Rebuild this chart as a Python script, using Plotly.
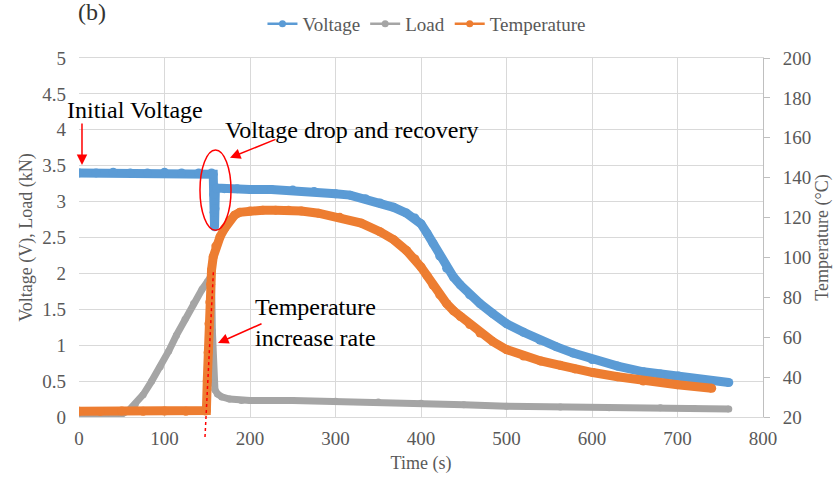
import plotly.graph_objects as go

# ---- data -------------------------------------------------------------
# Voltage (V), left axis
volt_t = [0, 20, 40, 60, 80, 100, 120, 140, 155, 157, 157.5, 158, 158.5, 159, 159.5,
          161, 170, 185, 200, 225, 250, 275, 300, 317, 335, 352, 368, 383, 393, 400,
          407, 414, 422, 430, 438, 446, 457, 469, 484, 500, 520, 539, 558, 578, 600,
          630, 660, 680, 701, 730, 760]
volt_v = [3.40, 3.40, 3.41, 3.40, 3.40, 3.41, 3.40, 3.40, 3.40, 3.38, 3.10, 2.85, 2.65,
          2.90, 3.18, 3.19, 3.18, 3.18, 3.17, 3.17, 3.16, 3.14, 3.11, 3.09, 3.04, 2.98,
          2.92, 2.84, 2.77, 2.69, 2.56, 2.42, 2.24, 2.07, 1.95, 1.84, 1.70, 1.58, 1.44,
          1.30, 1.18, 1.07, 0.98, 0.89, 0.80, 0.71, 0.63, 0.60, 0.57, 0.52, 0.48]

# Load (kN), left axis
load_t = [0, 10, 20, 30, 40, 50, 58, 66, 75, 85, 95, 105, 114, 124, 134, 144, 150, 155,
          156, 157, 159, 162, 167, 176, 190, 200, 250, 300, 350, 400, 450, 500, 563,
          620, 680, 720, 760]
load_v = [0.02, 0.01, 0.00, 0.00, 0.01, 0.04, 0.09, 0.18, 0.31, 0.50, 0.70, 0.92, 1.14,
          1.36, 1.58, 1.78, 1.88, 1.97, 1.20, 0.47, 0.38, 0.32, 0.28, 0.25, 0.23, 0.23,
          0.23, 0.22, 0.21, 0.19, 0.17, 0.15, 0.14, 0.13, 0.13, 0.12, 0.11]

# Temperature (°C), right axis
temp_t = [0, 25, 50, 75, 100, 125, 148, 149, 150, 151, 152, 153, 154, 155, 157, 160, 165,
          170, 176, 182, 188, 200, 215, 230, 245, 260, 280, 305, 330, 352, 368, 383, 393,
          400, 407, 414, 422, 430, 438, 446, 457, 469, 484, 500, 520, 540, 563, 580, 601,
          630, 660, 700, 740]
temp_v = [22.9, 22.8, 23.0, 22.9, 23.0, 22.9, 23.0, 23.2, 38.0, 52.4, 66.8, 77.6, 86.6,
          93.8, 100.3, 105.7, 110.4, 114.3, 118.6, 121.2, 122.6, 123.3, 123.7, 123.7,
          123.7, 123.3, 122.2, 120.1, 117.2, 112.9, 108.9, 103.5, 99.2, 95.2, 90.9, 86.2,
          81.2, 76.9, 73.3, 70.4, 66.4, 62.1, 57.8, 53.8, 50.6, 48.1, 45.9, 44.1, 42.3,
          40.2, 38.0, 36.2, 34.4]

x_ticks = [0, 100, 200, 300, 400, 500, 600, 700, 800]
left_ticks = [0, 0.5, 1, 1.5, 2, 2.5, 3, 3.5, 4, 4.5, 5]
right_ticks = [20, 40, 60, 80, 100, 120, 140, 160, 180, 200]

BLUE = "#5B9BD5"
GRAY = "#A5A5A5"
ORANGE = "#ED7D31"
RED = "#FF0000"
TXT = "#595959"
GRID = "#D9D9D9"
FONT = "Liberation Serif, Times New Roman, serif"

fig = go.Figure()

# thick data bands (dense markers drawn as a wide line with round joints)
fig.add_trace(go.Scatter(x=volt_t, y=volt_v, mode="lines+markers", name="Voltage",
                         line=dict(color=BLUE, width=9), marker=dict(color=BLUE, size=9),
                         showlegend=False))
fig.add_trace(go.Scatter(x=load_t, y=load_v, mode="lines+markers", name="Load",
                         line=dict(color=GRAY, width=7), marker=dict(color=GRAY, size=7),
                         showlegend=False))
fig.add_trace(go.Scatter(x=temp_t, y=temp_v, mode="lines+markers", name="Temperature",
                         line=dict(color=ORANGE, width=9), marker=dict(color=ORANGE, size=9),
                         showlegend=False, yaxis="y2"))

# legend entries: thin line with a dot
for name, color, ax in [("Voltage", BLUE, "y"), ("Load", GRAY, "y"), ("Temperature", ORANGE, "y2")]:
    fig.add_trace(go.Scatter(x=[None], y=[None], mode="lines+markers", name=name,
                             line=dict(color=color, width=2.5),
                             marker=dict(color=color, size=7), yaxis=ax))

tick_font = dict(family=FONT, size=19, color=TXT)
title_font = dict(family=FONT, size=18, color=TXT)

fig.update_layout(
    width=834, height=480,
    margin=dict(l=79, r=71, t=58, b=63, autoexpand=False),
    paper_bgcolor="white", plot_bgcolor="white",
    font=dict(family=FONT, size=18, color=TXT),
    xaxis=dict(range=[0, 800], tickvals=x_ticks, showgrid=True, gridcolor=GRID,
               gridwidth=1, zeroline=False, showline=True, linecolor=GRID, mirror=True,
               ticks="", tickfont=tick_font, ticklabelstandoff=4,
               title=dict(text="Time (s)", font=title_font, standoff=8)),
    yaxis=dict(range=[0, 5], tickvals=left_ticks, showgrid=True, gridcolor=GRID,
               zeroline=False, showline=False, ticks="", tickfont=tick_font,
               ticklabelstandoff=12,
               title=dict(text="Voltage (V), Load (kN)", font=title_font, standoff=4)),
    yaxis2=dict(range=[20, 200], tickvals=right_ticks, overlaying="y", side="right",
                showgrid=False, zeroline=False, showline=True, linecolor="#BFBFBF",
                ticks="outside", ticklen=6, tickcolor="#BFBFBF", tickfont=tick_font,
                ticklabelstandoff=9,
                title=dict(text="Temperature (°C)", font=title_font, standoff=5)),
    legend=dict(orientation="h", x=0.508, xanchor="center", y=1.095, yanchor="middle",
                font=dict(family=FONT, size=19, color=TXT), itemwidth=30,
                bgcolor="rgba(0,0,0,0)"),
    showlegend=True,
)

# callouts
ann_font = dict(family=FONT, size=24, color="black")
arrow = dict(showarrow=True, arrowhead=2, arrowsize=1.4, arrowwidth=1.5,
             arrowcolor=RED, text="", xref="x", yref="y")
fig.add_annotation(x=3.5, y=3.51, ax=0, ay=-43, **arrow)
fig.add_annotation(x=176.6, y=3.61, ax=47, ay=-19, **arrow)
fig.add_annotation(x=162.6, y=1.03, ax=45, ay=-20, **arrow)

fig.add_annotation(x=-0.021, y=0.855, xref="paper", yref="paper", text="Initial Voltage",
                   showarrow=False, xanchor="left", yanchor="middle", font=ann_font)
fig.add_annotation(x=168.5, y=4.0, xref="x", yref="y", text="Voltage drop and recovery",
                   showarrow=False, xanchor="left", yanchor="middle", font=ann_font)
fig.add_annotation(x=203, y=1.31, xref="x", yref="y", text="Temperature<br>increase rate",
                   showarrow=False, xanchor="left", yanchor="middle", align="left",
                   font=ann_font)
fig.add_annotation(x=0.019, y=1.128, xref="paper", yref="paper", text="(b)",
                   showarrow=False, xanchor="center", yanchor="middle",
                   font=dict(family=FONT, size=24, color="#333333"))

# ring around the voltage dip and tangent to the temperature rise
fig.add_shape(type="circle", xref="x", yref="y", x0=141.5, x1=177.8, y0=2.60, y1=3.72,
              line=dict(color=RED, width=1.5))
fig.add_shape(type="line", xref="paper", yref="paper", x0=0.1842, y0=-0.0557,
              x1=0.1966, y1=0.4095, line=dict(color=RED, width=1.5, dash="dot"))

fig.write_html("out.html")
